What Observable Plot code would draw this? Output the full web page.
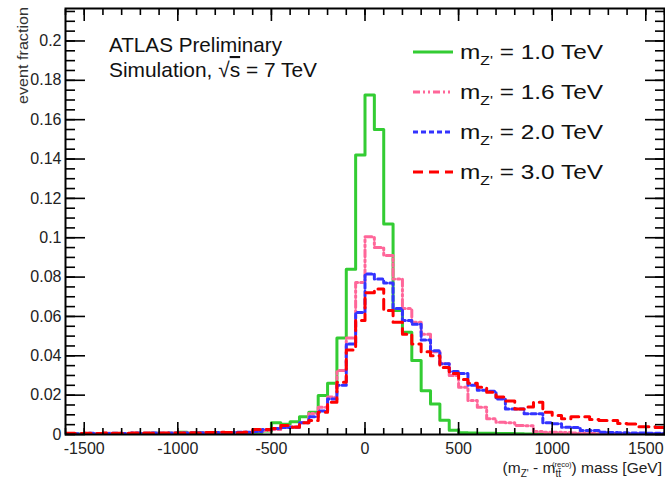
<!DOCTYPE html>
<html><head><meta charset="utf-8">
<script src="https://cdn.jsdelivr.net/npm/d3@7"></script>
<script src="https://cdn.jsdelivr.net/npm/@observablehq/plot@0.6"></script>
<style>body{margin:0;background:#fff;} svg{display:block;}</style>
</head><body><div id="chart"></div>
<script>
// histogram bins: 64 bins of 50 GeV starting at -1600 GeV
const binStart = -1600, binWidth = 50;

const mz10 = [0.0003,0.0002,0.0004,0.0003,0.0005,0.0004,0.0003,0.0005,0.0004,0.0006,0.0005,0.0006,
  0.0012,0.0006,0.0007,0.0006,0.0008,0.0009,0.0008,0.001,
  0.0012,0.0018,0.006,0.0052,0.0065,0.009,0.0113,0.0198,0.026,0.049,0.084,0.142,
  0.1726,0.155,0.107,0.063,0.052,0.0376,0.0222,0.0155,0.0072,0.0022,0.0009,0.0007,0.0006,0.0006,0.0005,0.0005,
  0.0004,0.0003,0.0002,0.0002,0.0002,0.0002,0.0001,0.0001,0.0001,0.0001,0.0001,0.0001,0.0001,0.0001,0.0001,0.0001];
const mz16 = [0.0004,0.0003,0.0005,0.0004,0.0006,0.0005,0.0004,0.0006,0.0005,0.0007,0.0006,0.0008,
  0.0007,0.0008,0.0007,0.001,0.001,0.0009,0.001,0.0012,
  0.0015,0.002,0.0025,0.0035,0.004,0.006,0.0107,0.0139,0.019,0.0325,0.049,0.0773,
  0.1005,0.095,0.091,0.079,0.064,0.057,0.051,0.042,0.036,0.030,0.024,0.0173,0.0139,0.008,0.0062,0.006,
  0.0046,0.0045,0.0015,0.0012,0.0012,0.001,0.0008,0.0006,0.0005,0.0005,0.0004,0.0005,0.0004,0.0004,0.0003,0.0003];
const mz20 = [0.0005,0.0004,0.0006,0.0005,0.0005,0.0006,0.0005,0.0007,0.0006,0.0007,0.0006,0.0008,
  0.0008,0.0007,0.0009,0.0008,0.001,0.0009,0.0011,0.0012,
  0.0015,0.0025,0.003,0.0035,0.0037,0.006,0.009,0.012,0.018,0.025,0.046,0.062,
  0.0816,0.079,0.077,0.064,0.058,0.056,0.048,0.0426,0.036,0.032,0.031,0.025,0.0225,0.022,0.018,0.013,
  0.013,0.0106,0.0106,0.006,0.0055,0.0037,0.0035,0.002,0.002,0.0012,0.001,0.0009,0.0008,0.0007,0.0006,0.0006];
const mz30 = [0.0006,0.0005,0.0006,0.0005,0.0007,0.0006,0.0006,0.0008,0.0007,0.0006,0.0008,0.0007,
  0.0008,0.0009,0.0008,0.001,0.0011,0.001,0.0009,0.0012,
  0.0025,0.0025,0.003,0.0046,0.0037,0.006,0.0071,0.0113,0.0164,0.0265,0.043,0.058,
  0.072,0.074,0.063,0.057,0.051,0.046,0.042,0.040,0.034,0.031,0.028,0.026,0.024,0.0215,0.019,0.017,
  0.013,0.014,0.0164,0.0113,0.0097,0.008,0.009,0.009,0.0076,0.0071,0.0071,0.0056,0.0054,0.004,0.004,0.0035];

const seriesNames = ["1.0", "1.6", "2.0", "3.0"];
const seriesValues = [mz10, mz16, mz20, mz30];
const seriesColors = ["#33cc33", "#ff6699", "#3333ff", "#ff0000"];
const seriesDash = [null, "7,3,2,3,2,3", "5,3", "10,6"];

const xMajor = [-1500, -1000, -500, 0, 500, 1000, 1500];
const yMajor = [0, 0.02, 0.04, 0.06, 0.08, 0.1, 0.12, 0.14, 0.16, 0.18, 0.2];
const xMinor = d3.range(-1600, 1601, 100);
const yMinor = d3.range(0, 0.216, 0.005);

function stepPoints(vals) {
  const pts = vals.map((v, i) => ({x: binStart + i * binWidth, y: v}));
  pts.push({x: binStart + vals.length * binWidth, y: vals[vals.length - 1]});
  return pts;
}

const font = "'Liberation Sans', Arial, Helvetica, sans-serif";
const tickW = 1.6;

const plot = Plot.plot({
  width: 665, height: 478,
  marginLeft: 65, marginRight: 1, marginTop: 8, marginBottom: 44,
  x: {domain: [-1600, 1600], axis: null},
  y: {domain: [0, 0.2165], axis: null},
  style: {fontFamily: font, background: "#fff", color: "#000", overflow: "visible"},
  marks: [
    ...seriesValues.map((vals, k) => Plot.line(stepPoints(vals), {
      x: "x", y: "y", curve: "step-after", stroke: seriesColors[k], strokeWidth: 3,
      strokeDasharray: seriesDash[k], clip: true
    })),
    // inward ticks, ROOT style
    Plot.axisX(xMinor, {anchor: "bottom", tickSize: -6, fill: "none", label: null, strokeWidth: tickW}),
    Plot.axisX(xMajor, {anchor: "bottom", tickSize: -12, fill: "none", label: null, strokeWidth: tickW}),
    Plot.axisX(xMinor, {anchor: "top", tickSize: -6, fill: "none", label: null, strokeWidth: tickW}),
    Plot.axisX(xMajor, {anchor: "top", tickSize: -12, fill: "none", label: null, strokeWidth: tickW}),
    Plot.axisY(yMinor, {anchor: "left", tickSize: -10, fill: "none", label: null, strokeWidth: tickW}),
    Plot.axisY(yMajor, {anchor: "left", tickSize: -20, fill: "none", label: null, strokeWidth: tickW}),
    Plot.axisY(yMinor, {anchor: "right", tickSize: -10, fill: "none", label: null, strokeWidth: tickW}),
    Plot.axisY(yMajor, {anchor: "right", tickSize: -20, fill: "none", label: null, strokeWidth: tickW}),
    Plot.axisX(xMajor, {anchor: "bottom", tickSize: 0, tickPadding: 8, fontSize: 16, fill: "#222",
      label: null, tickFormat: d => String(d)}),
    Plot.axisY(yMajor, {anchor: "left", tickSize: 0, tickPadding: 4, fontSize: 16, fill: "#222",
      label: null, tickFormat: d => String(d)}),
    Plot.frame({stroke: "#000", strokeWidth: 2})
  ]
});

document.getElementById("chart").appendChild(plot);
const svg = d3.select(plot);

// y-axis title
svg.append("text").attr("transform", "translate(28,7) rotate(-90)")
  .attr("text-anchor", "end").attr("font-size", 14.5).attr("fill", "#333")
  .attr("textLength", 97).attr("lengthAdjust", "spacingAndGlyphs")
  .attr("font-family", font).text("event fraction");

// x-axis title
const xl = svg.append("text").attr("x", 662).attr("y", 473).attr("text-anchor", "end")
  .attr("font-size", 15.5).attr("fill", "#222").attr("font-family", font);
xl.append("tspan").text("(m");
xl.append("tspan").attr("font-size", 10).attr("dy", 4).text("Z'");
xl.append("tspan").attr("dy", -4).text(" - m");
xl.append("tspan").attr("font-size", 10).attr("dy", 4).text("tt\u0304");
xl.append("tspan").attr("font-size", 7.5).attr("dx", -9).attr("dy", -10).text("(reco)");
xl.append("tspan").attr("dy", 6).text(") mass [GeV]");

// ATLAS label
const at = svg.append("g").attr("font-family", font).attr("fill", "#111").attr("text-anchor", "start");
at.append("text").attr("x", 109).attr("y", 52).attr("font-size", 21)
  .attr("textLength", 173).attr("lengthAdjust", "spacingAndGlyphs").text("ATLAS Preliminary");
const sim = at.append("text").attr("x", 109).attr("y", 77).attr("font-size", 21)
  .attr("textLength", 208).attr("lengthAdjust", "spacingAndGlyphs");
sim.append("tspan").text("Simulation, \u221A");
sim.append("tspan").attr("text-decoration", "overline").text("s");
sim.append("tspan").text(" = 7 TeV");

// legend
const lg = svg.append("g").attr("font-family", font).attr("text-anchor", "start");
seriesNames.forEach((name, k) => {
  const yy = 52 + k * 40;
  lg.append("line").attr("x1", 413).attr("x2", 453).attr("y1", yy).attr("y2", yy)
    .attr("stroke", seriesColors[k]).attr("stroke-width", 3)
    .attr("stroke-dasharray", seriesDash[k]);
  const t = lg.append("text").attr("x", 460).attr("y", yy + 6.5).attr("font-size", 19.5).attr("fill", "#111")
    .attr("textLength", 143).attr("lengthAdjust", "spacingAndGlyphs");
  t.append("tspan").text("m");
  t.append("tspan").attr("font-size", 12.5).attr("dy", 6).text("Z'");
  t.append("tspan").attr("dy", -6).text(" = " + name + " TeV");
});
</script>
</body></html>
